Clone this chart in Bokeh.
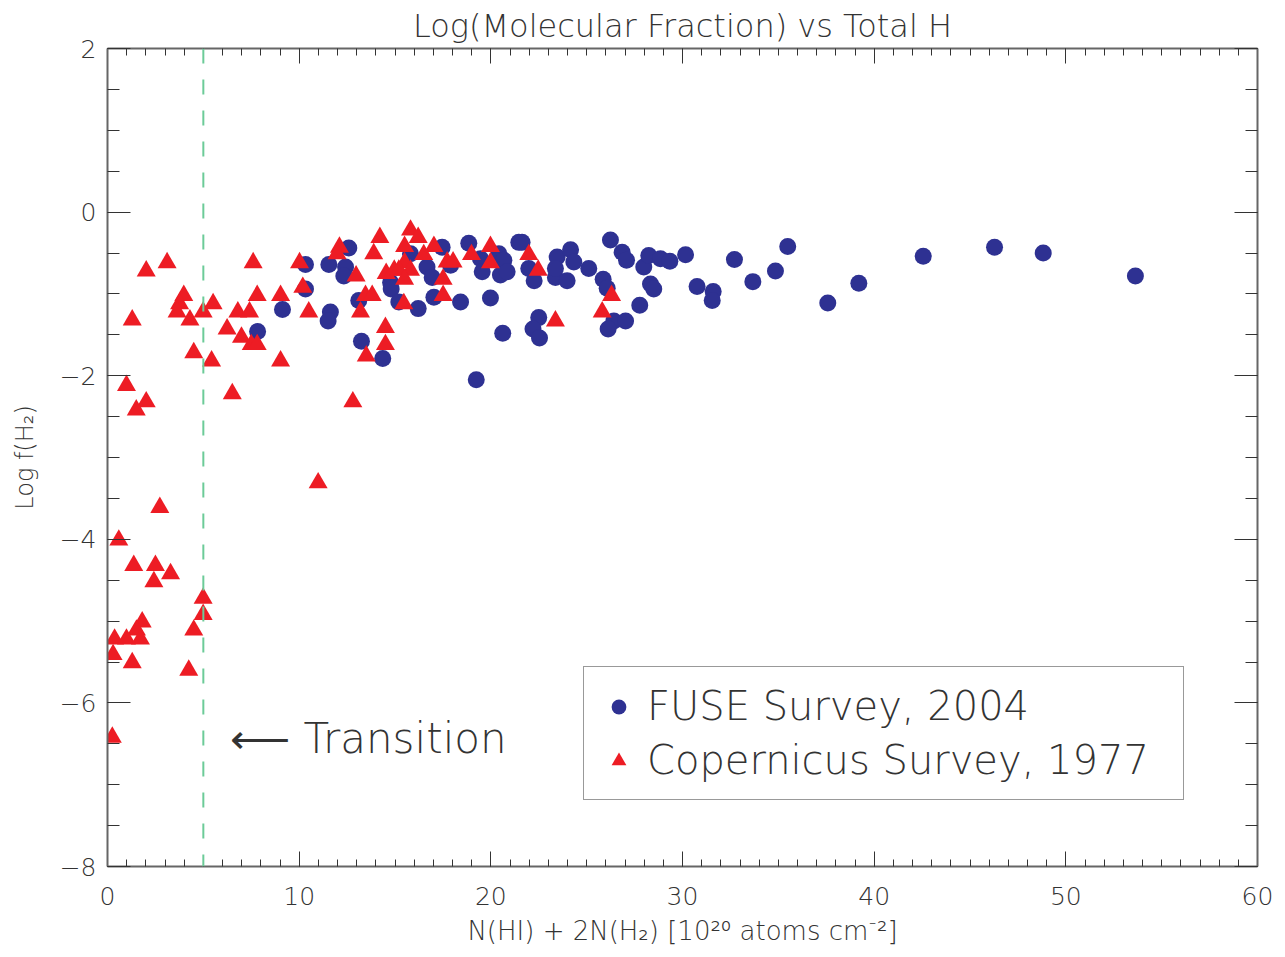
import numpy as np
from bokeh.plotting import figure
from bokeh.models import (LinearAxis, FixedTicker, Span, Label, Legend, LegendItem, Range1d,
                          CustomLabelingPolicy)
from bokeh.embed import file_html
from bokeh.resources import INLINE

# ---------------- data ----------------
fuse_x = [7.83, 9.13, 10.33, 10.33, 11.55, 11.63, 11.51, 12.59, 12.42, 12.33,
          13.11, 13.25, 14.36, 14.77, 14.80, 15.20, 15.81, 16.21, 16.67, 16.94,
          17.03, 17.46, 17.90, 18.42, 18.85, 19.46, 19.55, 19.98, 20.42, 20.68,
          20.50, 20.85, 20.62, 19.24, 21.46, 21.63, 21.98, 22.26, 22.50, 22.20,
          22.54, 23.46, 24.16, 24.33, 23.37, 23.98, 23.37, 25.11, 25.86, 26.07,
          26.24, 26.85, 27.08, 27.77, 27.98, 28.24, 28.33, 28.50, 28.85, 29.34,
          30.16, 30.76, 31.60, 31.55, 32.71, 33.67, 34.85, 35.49, 26.42, 27.03,
          26.12, 37.58, 39.20, 42.56, 46.28, 48.82, 53.63]
fuse_y = [-1.46, -1.19, -0.64, -0.94, -0.64, -1.22, -1.33, -0.44, -0.67, -0.78,
          -1.08, -1.58, -1.79, -0.86, -0.94, -1.10, -0.51, -1.18, -0.67, -0.80,
          -1.04, -0.43, -0.65, -1.10, -0.38, -0.57, -0.73, -1.05, -0.51, -0.59,
          -0.77, -0.73, -1.48, -2.05, -0.37, -0.37, -0.69, -0.84, -1.29, -1.43,
          -1.54, -0.55, -0.46, -0.61, -0.80, -0.84, -0.69, -0.69, -0.82, -0.93,
          -0.34, -0.49, -0.59, -1.14, -0.67, -0.53, -0.88, -0.94, -0.57, -0.60,
          -0.52, -0.91, -0.97, -1.08, -0.58, -0.85, -0.72, -0.42, -1.33, -1.33,
          -1.43, -1.11, -0.87, -0.54, -0.43, -0.50, -0.78]

cop_x = [0.25, 0.59, 2.73, 1.37, 2.50, 3.29, 2.42, 4.99, 4.99, 1.81,
         4.50, 1.51, 0.37, 0.99, 1.72, 0.29, 1.29, 4.24, 10.99,
         2.02, 3.11, 7.60, 10.02, 3.98, 3.76, 3.63, 4.30, 1.29, 4.99,
         5.51, 6.80, 7.41, 7.81, 9.03, 10.19, 10.50, 6.24, 6.99, 7.50,
         7.81, 4.50, 5.43, 9.03, 0.99, 2.02, 1.50, 6.51, 12.80,
         12.10, 11.98, 14.21, 13.89, 12.97, 14.54, 14.96, 13.46, 13.81, 13.20,
         14.50, 14.50, 13.50,
         15.81, 16.21, 15.50, 16.50, 17.03, 15.50, 15.81, 15.20, 15.50, 17.51,
         17.51, 17.72, 18.03, 18.99, 19.98, 19.98, 21.98, 22.47, 23.37, 15.46,
         26.30, 25.81]
cop_y = [-6.42, -4.01, -3.61, -4.32, -4.32, -4.42, -4.52, -4.72, -4.92, -5.01,
         -5.11, -5.11, -5.22, -5.22, -5.22, -5.41, -5.51, -5.60, -3.31,
         -0.72, -0.62, -0.62, -0.62, -1.02, -1.12, -1.22, -1.32, -1.32, -1.22,
         -1.12, -1.22, -1.22, -1.02, -1.02, -0.92, -1.22, -1.43, -1.53, -1.62,
         -1.62, -1.72, -1.82, -1.82, -2.12, -2.32, -2.42, -2.22, -2.32,
         -0.43, -0.51, -0.31, -0.51, -0.78, -0.75, -0.71, -1.02, -1.02, -1.22,
         -1.41, -1.62, -1.76,
         -0.22, -0.31, -0.42, -0.52, -0.42, -0.62, -0.71, -0.71, -0.82, -0.82,
         -1.02, -0.61, -0.61, -0.52, -0.42, -0.62, -0.52, -0.71, -1.33, -1.12,
         -1.02, -1.22]

x_ticks = [0, 10, 20, 30, 40, 50, 60]
y_ticks = [-8, -6, -4, -2, 0, 2]
y_tick_labels = {-8: "\u22128", -6: "\u22126", -4: "\u22124", -2: "\u22122", 0: "0", 2: "2"}
transition_at = 5

title_text = "Log(Molecular Fraction) vs Total H"
x_label = "N(HI) + 2N(H\u2082) [10\u00b2\u2070 atoms cm\u207b\u00b2]"
y_label = "Log f(H\u2082)"
series_labels = ["FUSE Survey, 2004", "Copernicus Survey, 1977"]
transition_text = "\u27f5 Transition"

FONT = "'DejaVu Sans Light', 'Lato Light', 'Noto Sans', sans-serif"
TXT = "#333333"

# ---------------- figure ----------------
p = figure(frame_width=1150, frame_height=818,
           min_border_left=107, min_border_right=20, min_border_top=48, min_border_bottom=60,
           x_range=Range1d(0, 60), y_range=Range1d(-8, 2),
           output_backend="svg", toolbar_location=None, title=title_text)
p.grid.visible = False
p.outline_line_color = None
p.title.align = "center"
p.title.text_font_size = "32px"
p.title.text_font_style = "normal"
p.title.text_font = FONT
p.title.text_color = TXT
p.title.standoff = 0

xt = FixedTicker(ticks=x_ticks, minor_ticks=list(range(0, 61)))
yt = FixedTicker(ticks=y_ticks, minor_ticks=list(np.arange(-8, 2.01, 0.5)))


def style(ax, is_x, labels=True):
    ax.major_tick_out = 0
    ax.minor_tick_out = 0
    ax.major_tick_in = 15 if is_x else 23
    ax.minor_tick_in = 7 if is_x else 12
    ax.axis_line_color = "#666666"
    ax.axis_line_width = 2
    ax.major_tick_line_color = "#333333"
    ax.minor_tick_line_color = "#333333"
    ax.major_tick_line_width = 1
    ax.minor_tick_line_width = 1
    if labels:
        ax.major_label_text_font = FONT
        ax.major_label_text_font_size = "25px"
        ax.major_label_text_color = TXT
        ax.axis_label_text_font = FONT
        ax.axis_label_text_font_style = "normal"
        ax.axis_label_text_color = TXT
    else:
        ax.major_label_policy = CustomLabelingPolicy(code="return")
        ax.major_label_text_font_size = "1px"
        ax.major_label_standoff = 0
        ax.axis_label = None


xa = p.xaxis[0]
xa.ticker = xt
style(xa, True)
xa.major_label_standoff = 20
xa.axis_label = x_label
xa.axis_label_text_font_size = "26px"
xa.axis_label_standoff = 8

ya = p.yaxis[0]
ya.ticker = yt
style(ya, False)
ya.major_label_overrides = y_tick_labels
ya.major_label_standoff = 11
ya.axis_label = y_label
ya.axis_label_text_font_size = "24px"
ya.axis_label_standoff = 18

top = LinearAxis(ticker=xt)
style(top, True, labels=False)
p.add_layout(top, "above")
right = LinearAxis(ticker=yt)
style(right, False, labels=False)
p.add_layout(right, "right")

# ---------------- marks ----------------
r_fuse = p.scatter(fuse_x, fuse_y, marker="circle", size=17,
                   fill_color="#2E3192", line_color=None)
r_cop = p.scatter(cop_x, cop_y, marker="triangle", size=19,
                  fill_color="#ED1C24", line_color=None)

p.add_layout(Span(location=transition_at, dimension="height", line_color="#6CCB98",
                  line_width=2, line_dash="15 16"))

p.add_layout(Label(x=6.4, y=-6.43, text=transition_text, text_font=FONT,
                   text_font_size="42px", text_baseline="middle", text_color=TXT))

legend = Legend(items=[LegendItem(label=series_labels[0], renderers=[r_fuse]),
                       LegendItem(label=series_labels[1], renderers=[r_cop])],
                location=(476, 66), padding=16, spacing=8, margin=0,
                glyph_width=37, glyph_height=37, label_standoff=10, label_width=520,
                label_text_font=FONT, label_text_font_size="40px", label_text_color=TXT,
                border_line_color="#333333", border_line_width=1.5,
                background_fill_color="white", background_fill_alpha=1)
p.add_layout(legend)

open("out.html", "w").write(file_html(p, INLINE))
